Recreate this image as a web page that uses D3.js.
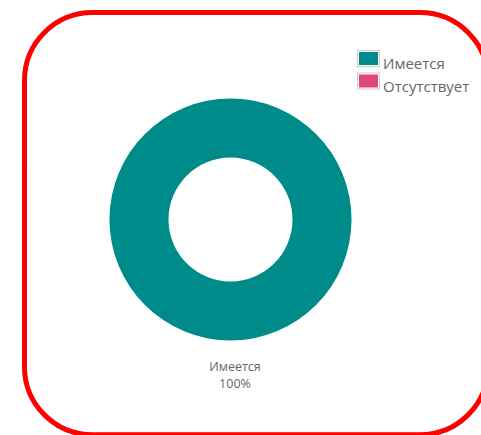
<!DOCTYPE html>
<html><head><meta charset="utf-8">
<script src="https://cdn.jsdelivr.net/npm/d3@7"></script>
<style>html,body{margin:0;padding:0;background:#fff;overflow:hidden}</style>
</head><body>
<svg id="chart" width="481" height="435"></svg>
<script>
const categories = ["Имеется", "Отсутствует"];
const values = [100, 0];
const colors = ["#008B8B", "#E0457B"];

const svg = d3.select("#chart");
svg.append("rect").attr("x", 24.5).attr("y", 12.5).attr("width", 463.5).attr("height", 422.3)
  .attr("rx", 68).attr("ry", 68).attr("fill", "none").attr("stroke", "#ff0000").attr("stroke-width", 5);

const data = categories.map((c, i) => ({cat: c, value: values[i], color: colors[i]}));
const total = d3.sum(values);
const pie = d3.pie().value(d => d.value).sort(null);
const arc = d3.arc().innerRadius(62).outerRadius(121);
const g = svg.append("g").attr("transform", "translate(230.5,219.5)");
const arcs = pie(data);
g.selectAll("path").data(arcs.filter(a => a.data.value > 0)).join("path")
  .attr("d", arc).attr("fill", d => d.data.color);

// labels
const lab = svg.append("g");
arcs.filter(a => a.data.value > 0).forEach(a => {
  const t = lab.append("text").attr("x", 235).attr("text-anchor", "middle")
    .attr("font-family", "'Open Sans', sans-serif").attr("font-size", 12.5).attr("fill", "#666");
  t.append("tspan").attr("x", 235).attr("y", 371).text(a.data.cat);
  t.append("tspan").attr("x", 235).attr("y", 388).text(d3.format(".0f")(a.data.value / total * 100) + "%");
});

// legend
const leg = svg.append("g").attr("transform", "translate(357,50)");
const items = leg.selectAll("g").data(data).join("g").attr("transform", (d, i) => `translate(0,${i * 22.5})`);
items.append("rect").attr("x", 0.5).attr("y", 0.5).attr("width", 22).attr("height", 16)
  .attr("fill", "#fff").attr("stroke", "#ccc");
items.append("rect").attr("x", 2).attr("y", 2).attr("width", 19).attr("height", 13).attr("fill", d => d.color);
items.append("text").attr("x", 26).attr("y", 19).attr("font-family", "'Open Sans', sans-serif")
  .attr("font-size", 15).attr("fill", "#666").text(d => d.cat);
</script>
</body></html>
